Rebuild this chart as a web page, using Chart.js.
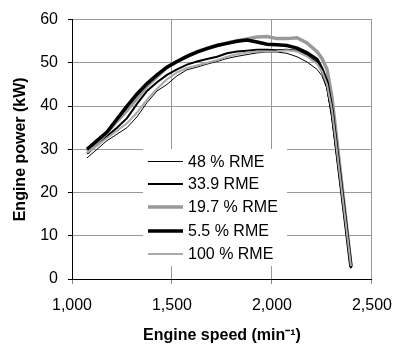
<!DOCTYPE html>
<html>
<head>
<meta charset="utf-8">
<script src="https://cdn.jsdelivr.net/npm/chart.js@4.4.1/dist/chart.umd.min.js"></script>
<style>
  html, body { margin: 0; padding: 0; background: #fff; }
  #wrap { width: 404px; height: 347px; }
</style>
</head>
<body>
<div id="wrap"><canvas id="chart" width="404" height="347"></canvas></div>
<script>
const speed = [1075, 1125, 1175, 1225, 1275, 1325, 1375, 1425, 1475, 1525, 1575, 1625, 1675, 1725,
               1775, 1825, 1875, 1925, 1975, 2025, 2075, 2125, 2175, 2225, 2250, 2275, 2300, 2395];

// engine power (kW) per fuel blend
const rme48 = [28.0, 30.0, 32.0, 33.5, 35.0, 37.5, 40.8, 43.5, 45.0, 47.0, 48.4, 49.0, 49.7, 50.3,
               51.0, 51.5, 51.9, 52.3, 52.5, 52.5, 52.2, 51.4, 50.2, 48.5, 47.0, 44.0, 37.0, 2.5];
const rme339 = [29.0, 31.0, 33.0, 35.0, 37.2, 40.5, 43.5, 45.5, 47.2, 48.5, 49.6, 50.3, 50.9, 51.4,
                52.2, 52.6, 52.8, 53.0, 53.0, 52.9, 53.0, 52.8, 51.8, 50.0, 48.0, 44.5, 38.0, 2.5];
const rme197 = [29.6, 31.5, 33.8, 36.5, 39.0, 41.8, 44.6, 46.8, 49.0, 50.3, 51.5, 52.6, 53.4, 54.0,
                54.6, 55.1, 55.5, 56.0, 56.1, 55.6, 55.6, 55.8, 54.6, 52.6, 51.0, 48.5, 42.0, 3.2];
const rme55 = [30.0, 32.0, 34.0, 37.0, 40.0, 42.8, 45.2, 47.2, 49.0, 50.3, 51.5, 52.5, 53.3, 54.0,
               54.5, 55.0, 55.3, 54.8, 54.3, 54.2, 54.0, 53.4, 52.3, 50.8, 48.5, 45.5, 39.0, 2.8];
const rme100 = [29.2, 30.8, 32.6, 34.3, 36.0, 38.5, 41.5, 44.0, 46.2, 47.8, 48.8, 49.4, 50.0, 50.6,
                51.4, 52.0, 52.4, 52.6, 52.6, 52.7, 52.9, 52.6, 51.5, 49.8, 48.0, 45.0, 39.0, 3.0];

const labels = ['48 % RME', '33.9 RME', '19.7 % RME', '5.5 % RME', '100 % RME'];
const xTicks = [1000, 1500, 2000, 2500];

function pts(vals) {
    return vals.map((v, i) => ({ x: speed[i], y: v }));
}

const FONT = "'Liberation Sans', Arial, sans-serif";

// legend drawn inside the plot, on a white box
const boxLegend = {
    id: 'boxLegend',
    afterDatasetsDraw(chart) {
        const ctx = chart.ctx;
        ctx.save();
        ctx.fillStyle = '#fff';
        ctx.fillRect(143, 149, 144, 117);
        chart.data.datasets.forEach((ds, i) => {
            const y = Math.round(161 + i * 23.2) + (ds.borderWidth % 2 === 1 ? 0.5 : 0);
            ctx.strokeStyle = ds.borderColor;
            ctx.lineWidth = ds.borderWidth;
            ctx.beginPath();
            ctx.moveTo(148, y);
            ctx.lineTo(183, y);
            ctx.stroke();
            ctx.fillStyle = '#000';
            ctx.font = '16px ' + FONT;
            ctx.textBaseline = 'middle';
            ctx.fillText(ds.label, 188, Math.round(y) + 1);
        });
        ctx.restore();
    }
};

new Chart(document.getElementById('chart'), {
    type: 'line',
    data: {
        datasets: [
            { label: labels[0], data: pts(rme48), borderColor: '#000', borderWidth: 1, order: 5 },
            { label: labels[1], data: pts(rme339), borderColor: '#000', borderWidth: 2, order: 4 },
            { label: labels[2], data: pts(rme197), borderColor: '#999', borderWidth: 3.5, order: 3 },
            { label: labels[3], data: pts(rme55), borderColor: '#000', borderWidth: 3.5, order: 2 },
            { label: labels[4], data: pts(rme100), borderColor: '#aaa', borderWidth: 2, order: 1 }
        ]
    },
    options: {
        responsive: false,
        animation: false,
        elements: { point: { radius: 0 }, line: { tension: 0, fill: false } },
        layout: { autoPadding: false, padding: { top: 10, right: 24, left: 0, bottom: 0 } },
        plugins: { legend: { display: false }, tooltip: { enabled: false } },
        scales: {
            x: {
                type: 'linear',
                min: 1000,
                max: 2500,
                afterBuildTicks(scale) { scale.ticks = xTicks.map(v => ({ value: v })); },
                afterFit(scale) { scale.height = 68; },
                border: { color: '#000', width: 1 },
                grid: { color: '#999', lineWidth: 1, tickLength: 5, tickColor: '#888' },
                ticks: {
                    padding: 12,
                    color: '#000',
                    font: { family: FONT, size: 16 },
                    maxRotation: 0,
                    callback: v => v.toLocaleString('en-US')
                },
                title: {
                    display: true,
                    text: 'Engine speed (min\u207B\u00B9)',
                    color: '#000',
                    font: { family: FONT, size: 16, weight: 'bold' },
                    padding: { top: 0, bottom: 2 }
                }
            },
            y: {
                min: 0,
                max: 60,
                afterFit(scale) { scale.width = 72; },
                border: { color: '#000', width: 1 },
                grid: { color: '#999', lineWidth: 1, tickLength: 4, tickColor: '#000' },
                ticks: {
                    stepSize: 10,
                    padding: 10,
                    color: '#000',
                    font: { family: FONT, size: 16 }
                },
                title: {
                    display: true,
                    text: 'Engine power (kW)',
                    color: '#000',
                    font: { family: FONT, size: 16, weight: 'bold' },
                    padding: { top: 11, bottom: 0 }
                }
            }
        }
    },
    plugins: [boxLegend]
});
</script>
</body>
</html>
